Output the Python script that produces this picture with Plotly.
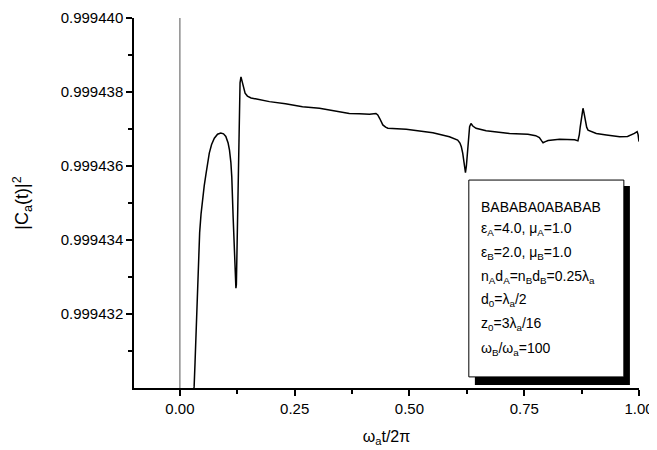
import plotly.graph_objects as go

# Data
t_vals = [0.029, 0.031, 0.033, 0.035, 0.037, 0.040, 0.043, 0.046, 0.049, 0.053,
          0.057, 0.061, 0.064, 0.069, 0.075, 0.082, 0.089, 0.095, 0.100, 0.105,
          0.108, 0.111, 0.113, 0.116, 0.118, 0.120, 0.122, 0.123, 0.124, 0.126,
          0.128, 0.129, 0.131, 0.133, 0.135, 0.138, 0.142, 0.147, 0.155, 0.167,
          0.195, 0.230, 0.267, 0.304, 0.340, 0.369, 0.391, 0.413, 0.427, 0.431,
          0.435, 0.442, 0.448, 0.453, 0.493, 0.551, 0.587, 0.600, 0.605, 0.610,
          0.613, 0.616, 0.618, 0.620, 0.622, 0.624, 0.627, 0.629, 0.631, 0.634,
          0.638, 0.645, 0.655, 0.667, 0.718, 0.758, 0.775, 0.783, 0.788, 0.791,
          0.796, 0.802, 0.827, 0.860, 0.867, 0.870, 0.872, 0.875, 0.878, 0.880,
          0.883, 0.886, 0.889, 0.897, 0.907, 0.929, 0.958, 0.975, 0.983, 0.990,
          0.996, 0.998, 1.000]
ca2_vals = [0.99942970, 0.99943005, 0.99943070, 0.99943135, 0.99943215, 0.99943335,
            0.99943420, 0.99943470, 0.99943508, 0.99943547, 0.99943580, 0.99943612,
            0.99943635, 0.99943658, 0.99943675, 0.99943686, 0.99943689, 0.99943687,
            0.99943680, 0.99943662, 0.99943643, 0.99943610, 0.99943570, 0.99943460,
            0.99943390, 0.99943327, 0.99943270, 0.99943280, 0.99943360, 0.99943508,
            0.99943680, 0.99943778, 0.99943825, 0.99943841, 0.99943830, 0.99943810,
            0.99943797, 0.99943789, 0.99943784, 0.99943781, 0.99943774, 0.99943768,
            0.99943760, 0.99943756, 0.99943748, 0.99943742, 0.99943741, 0.99943740,
            0.99943742, 0.99943738, 0.99943729, 0.99943711, 0.99943705, 0.99943702,
            0.99943699, 0.99943690, 0.99943679, 0.99943673, 0.99943670, 0.99943662,
            0.99943652, 0.99943635, 0.99943616, 0.99943595, 0.99943582, 0.99943600,
            0.99943643, 0.99943680, 0.99943706, 0.99943715, 0.99943708, 0.99943702,
            0.99943698, 0.99943695, 0.99943688, 0.99943686, 0.99943682, 0.99943677,
            0.99943668, 0.99943663, 0.99943666, 0.99943669, 0.99943672, 0.99943671,
            0.99943668, 0.99943685, 0.99943706, 0.99943735, 0.99943756, 0.99943745,
            0.99943724, 0.99943705, 0.99943697, 0.99943692, 0.99943688, 0.99943684,
            0.99943679, 0.99943680, 0.99943684, 0.99943688, 0.99943693, 0.99943685,
            0.99943666]

x_tick_vals = [0.0, 0.25, 0.5, 0.75, 1.0]
x_tick_text = ["0.00", "0.25", "0.50", "0.75", "1.00"]
x_minor_vals = [0.125, 0.375, 0.625, 0.875]
y_tick_vals = [0.999432, 0.999434, 0.999436, 0.999438, 0.999440]
y_tick_text = ["0.999432", "0.999434", "0.999436", "0.999438", "0.999440"]
y_minor_vals = [0.999431, 0.999433, 0.999435, 0.999437, 0.999439]

legend_lines = [
    "BABABA0ABABAB",
    "ε<sub>A</sub>=4.0, μ<sub>A</sub>=1.0",
    "ε<sub>B</sub>=2.0, μ<sub>B</sub>=1.0",
    "n<sub>A</sub>d<sub>A</sub>=n<sub>B</sub>d<sub>B</sub>=0.25λ<sub>a</sub>",
    "d<sub>0</sub>=λ<sub>a</sub>/2",
    "z<sub>0</sub>=3λ<sub>a</sub>/16",
    "ω<sub>B</sub>/ω<sub>a</sub>=100",
]
legend_y = [0.489, 0.430, 0.365, 0.300, 0.238, 0.173, 0.106]

FONT = "Liberation Sans, Arial, Helvetica, sans-serif"

fig = go.Figure()
fig.add_trace(go.Scatter(x=t_vals, y=ca2_vals, mode="lines",
                         line=dict(color="black", width=1.5),
                         showlegend=False, hoverinfo="skip"))

fig.add_vline(x=0.0, line=dict(color="#555555", width=1))

# legend box with shadow
fig.add_shape(type="rect", xref="paper", yref="paper",
              x0=0.675, x1=0.982, y0=0.008, y1=0.546,
              fillcolor="black", line=dict(width=0), layer="above")
fig.add_shape(type="rect", xref="paper", yref="paper",
              x0=0.663, x1=0.970, y0=0.030, y1=0.562,
              fillcolor="white", line=dict(color="black", width=1), layer="above")

for txt, yy in zip(legend_lines, legend_y):
    fig.add_annotation(text=txt, xref="paper", yref="paper", x=0.683, y=yy,
                       xanchor="left", yanchor="middle", showarrow=False,
                       font=dict(family=FONT, size=14, color="black"))

# page has an 8px body margin, so margins are offset to compensate
fig.update_layout(
    width=657, height=450,
    margin=dict(l=126, r=26, t=10, b=70, autoexpand=False),
    paper_bgcolor="white", plot_bgcolor="white",
    font=dict(family=FONT, size=14, color="black"),
    xaxis=dict(range=[-0.1, 1.0], tickmode="array", tickvals=x_tick_vals,
               ticktext=x_tick_text, ticks="outside", ticklen=6, tickwidth=1.5,
               tickcolor="black", showline=True, linecolor="black", linewidth=1.5,
               showgrid=False, zeroline=False, automargin=False,
               minor=dict(tickmode="array", tickvals=x_minor_vals, ticks="outside",
                          ticklen=4, tickwidth=1.5, tickcolor="black", showgrid=False),
               title=dict(text="ω<sub>a</sub>t/2π", font=dict(size=16), standoff=15),
               tickfont=dict(size=15)),
    yaxis=dict(range=[0.999430, 0.999440], tickmode="array", tickvals=y_tick_vals,
               ticktext=y_tick_text, ticks="outside", ticklen=6, tickwidth=1.5,
               tickcolor="black", showline=True, linecolor="black", linewidth=1.5,
               showgrid=False, zeroline=False, automargin=False,
               minor=dict(tickmode="array", tickvals=y_minor_vals, ticks="outside",
                          ticklen=4, tickwidth=1.5, tickcolor="black", showgrid=False),
               title=dict(text="|C<sub>a</sub>(t)|<sup>2</sup>", font=dict(size=18),
                          standoff=27),
               tickfont=dict(size=15)),
)

fig.write_html("out.html")
